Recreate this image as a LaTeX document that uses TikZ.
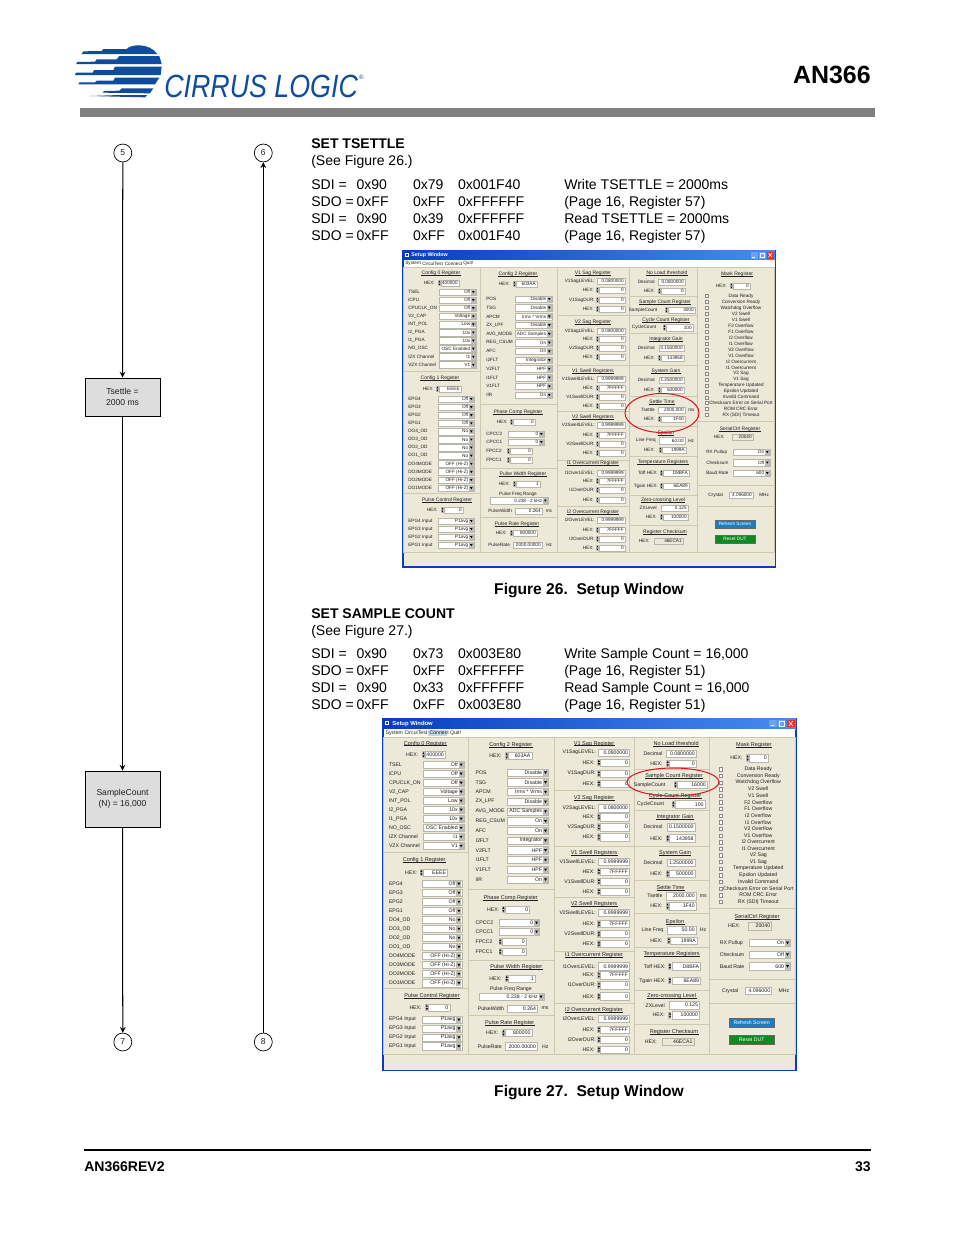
\documentclass[tikz,border=0pt]{standalone}
\usepackage{fontspec}
\setmainfont{Liberation Sans}
\definecolor{logoblue}{RGB}{15,76,158}
\definecolor{rulegray}{RGB}{128,128,128}
\definecolor{boxgray}{RGB}{221,221,221}
\definecolor{uibody}{RGB}{236,233,216}
\definecolor{uiedge}{RGB}{205,201,172}
\definecolor{uifieldedge}{RGB}{185,183,170}
\definecolor{uibtn}{RGB}{190,190,185}
\definecolor{uiink}{RGB}{30,30,30}
\definecolor{winblue}{RGB}{8,62,190}
\definecolor{titleblue}{RGB}{70,140,240}
\definecolor{hiblue}{RGB}{200,215,240}
\definecolor{refreshblue}{RGB}{30,125,190}
\definecolor{resetgreen}{RGB}{14,138,30}
\definecolor{markred}{RGB}{225,20,35}
\tikzset{>=stealth,
  bodytext/.style={anchor=base west,inner sep=0pt,font=\fontsize{9}{11}\selectfont},
  headtext/.style={bodytext,font=\fontsize{9}{11}\selectfont\bfseries},
  captiontext/.style={inner sep=0pt,font=\fontsize{10}{12}\selectfont\bfseries},
  flowbox/.style={draw=black,line width=.6pt,fill=boxgray,align=center,inner sep=0pt,
    minimum width=48.1pt,font=\fontsize{5.5}{7.2}\selectfont,text=uiink},
  flowmark/.style={draw=black,circle,line width=.45pt,inner sep=0pt,minimum size=11.5pt,
    font=\fontsize{5.5}{7}\selectfont,text=uiink},
  flowline/.style={line width=.65pt},
  uilabel/.style={inner sep=0pt,text=uiink,font=\fontsize{3}{3.6}\selectfont},
  uititle/.style={uilabel,font=\fontsize{3.2}{3.8}\selectfont},
  uirule/.style={draw=uiink,line width=.2pt},
  uifield/.style={fill=white,draw=uifieldedge,line width=.25pt},
  uipanel/.style={draw=uiedge,line width=.55pt},
  markring/.style={draw=markred,line width=.65pt}}
\newcounter{uiitem}
\newcommand{\uilbl}[3]{\stepcounter{uiitem}\node[uilabel,anchor=west] (ui\number\value{uiitem}) at (#1,#2) {#3};}
\newcommand{\uilblr}[3]{\stepcounter{uiitem}\node[uilabel,anchor=east] (ui\number\value{uiitem}) at (#1,#2) {#3};}
\newcommand{\uimid}[3]{\stepcounter{uiitem}\node[uilabel] (ui\number\value{uiitem}) at (#1,#2) {#3};}
\newcommand{\uihead}[3]{\stepcounter{uiitem}\node[uititle] (ui\number\value{uiitem}) at (#1,#2) {#3};
  \draw[uirule] ([yshift=-.3pt]ui\number\value{uiitem}.base west) -- ([yshift=-.3pt]ui\number\value{uiitem}.base east);}
\newcommand{\uiedit}[4]{\draw[uifield] (#1,#3-3.3) rectangle (#2,#3+3.3);\uilblr{#2-1}{#3}{#4}}
\newcommand{\uiread}[4]{\draw[uifield,fill=uibody] (#1,#3-3.3) rectangle (#2,#3+3.3);\uilblr{#2-1}{#3}{#4}}
\newcommand{\uispin}[4]{\fill[uibtn] (#1,#3-3.3) rectangle (#1+2.8,#3+3.3);
  \fill[black] (#1+.5,#3-.6) -- (#1+2.3,#3-.6) -- (#1+1.4,#3-2.4) -- cycle;
  \fill[black] (#1+.5,#3+.6) -- (#1+2.3,#3+.6) -- (#1+1.4,#3+2.4) -- cycle;
  \uiedit{#1+3}{#2}{#3}{#4}}
\newcommand{\uicombo}[4]{\draw[uifield] (#1,#3-3.3) rectangle (#2,#3+3.3);
  \fill[uibtn] (#2-5,#3-3) rectangle (#2-.4,#3+3);
  \fill[black] (#2-4,#3-1) -- (#2-1.4,#3-1) -- (#2-2.7,#3+1.2) -- cycle;
  \uilblr{#2-5.5}{#3}{#4}}
\newcommand{\uicomborows}[6]{\foreach \lab/\val [count=\n] in {#6} {
    \pgfmathsetmacro{\yy}{#4+#5*(\n-1)}
    \uilbl{#1}{\yy}{\lab}
    \uicombo{#2}{#3}{\yy}{\val}}}
% one setup window, drawn in the first window's page positions
\newcommand{\setupwindow}[3]{
  \fill[winblue] (402,250) rectangle (776,567.5);
  \shade[left color=winblue,right color=titleblue] (403,250.5) rectangle (775,260);
  \fill[uibody] (403.5,260) rectangle (774.5,566);
  \fill[white] (403.5,260) rectangle (774.5,267);
  \ifnum#3=1 \fill[hiblue] (443,260.5) rectangle (460.5,266.5); \fi
  % title bar
  \fill[white] (404.5,252.5) rectangle (408.5,256.5);
  \fill[winblue] (405.5,253.5) rectangle (407.5,255.5);
  \stepcounter{uiitem}
  \node[uilabel,anchor=west,text=white,font=\fontsize{3.4}{4}\selectfont\bfseries] (ui\number\value{uiitem}) at (411,255.3) {Setup Window};
  \fill[titleblue!80!white] (750.5,251.5) rectangle (757.5,258.5);
  \fill[titleblue!80!white] (758.5,251.5) rectangle (765.5,258.5);
  \fill[markred!70!orange] (766.5,251.5) rectangle (774,258.5);
  \draw[white,line width=.4pt] (752,257) -- (755,257);
  \draw[white,line width=.3pt] (760,253) rectangle (764,257);
  \draw[white,line width=.4pt] (768.5,253) -- (772,257) (772,253) -- (768.5,257);
  \foreach \mname/\mx in {System/405,CircuiTest/422,Connect/444.5,Quit!/463} {\uilbl{\mx}{263.5}{\mname}}
  % panel outlines
  \foreach \xa/\ya/\xb/\yb in {403.5/267.5/480/371,403.5/371/480/493,403.5/493/480/552,
      480/267.5/557/404,480/404/557/468,480/468/557/517,480/517/557/552,
      557/267.5/629/315,557/315/629/365,557/365/629/411,557/411/629/460,557/460/629/506,557/506/629/552,
      629/267.5/697/296,629/296/697/315,629/315/697/333,629/333/697/365,629/365/697/396,629/396/697/426,
      629/426/697/456,629/456/697/495,629/495/697/525,629/525/697/552,
      697/267.5/774.5/421,697/421/774.5/485,697/485/774.5/506,697/506/774.5/552} {
    \draw[uipanel] (\xa,\ya) rectangle (\xb,\yb);}
  % first column
  \uihead{441}{273}{Config 0 Register}
  \uilblr{435}{283}{HEX:}
  \uispin{438}{459}{283}{400000}
  \uicomborows{408}{439}{476}{292}{8.1}{TSEL/Off,iCPU/Off,CPUCLK\_ON/Off,V2\_CAP/Voltage,INT\_POL/Low,
    I2\_PGA/10x,I1\_PGA/10x,NO\_OSC/OSC Enabled,IZX Channel/I1,VZX Channel/V1}
  \uihead{440}{378}{Config 1 Register}
  \uilblr{434}{389}{HEX:}
  \uispin{436}{461}{389}{EEEE}
  \uicomborows{408}{438}{474}{399}{8.1}{EPG4/Off,EPG3/Off,EPG2/Off,EPG1/Off,DO4\_OD/No,DO3\_OD/No,DO2\_OD/No,DO1\_OD/No,
    DO4MODE/OFF (Hi-Z),DO3MODE/OFF (Hi-Z),DO2MODE/OFF (Hi-Z),DO1MODE/OFF (Hi-Z)}
  \uihead{447}{500}{Pulse Control Register}
  \uilblr{438}{510}{HEX:}
  \uispin{441}{463}{510}{0}
  \uicomborows{408}{438}{474}{521}{8}{EPG4 Input/P1avg,EPG3 Input/P1avg,EPG2 Input/P1avg,EPG1 Input/P1avg}
  % second column
  \uihead{518}{274}{Config 2 Register}
  \uilblr{510}{284}{HEX:}
  \uispin{513}{537}{284}{603AA}
  \uicomborows{486}{515}{552}{299}{8.73}{POS/Disable,TSG/Disable,APCM/Irms * Vrms,ZX\_LPF/Disable,AVG\_MODE/ADC Samples,
    REG\_CSUM/On,AFC/On,I2FLT/Integrator,V2FLT/HPF,I1FLT/HPF,V1FLT/HPF,IIR/On}
  \uihead{518}{412}{Phase Comp Register}
  \uilblr{508}{422}{HEX:}
  \uispin{510}{535}{422}{0}
  \uicomborows{486}{508}{544}{434}{8}{CPCC2/0,CPCC1/0}
  \uilbl{486}{451}{FPCC2} \uispin{507}{532}{451}{0}
  \uilbl{486}{460}{FPCC1} \uispin{507}{532}{460}{0}
  \uihead{523}{474}{Pulse Width Register}
  \uilblr{510}{484}{HEX:}
  \uispin{513}{540}{484}{1}
  \uimid{518}{494}{Pulse Freq Range}
  \uicombo{490}{548}{500.5}{0.238 - 2 kHz}
  \uilbl{488}{511}{PulseWidth} \uiedit{515}{542}{511}{0.264} \uilbl{545.5}{511}{ms}
  \uihead{517}{524}{Pulse Rate Register}
  \uilblr{507}{533}{HEX:}
  \uispin{510}{537}{533}{800000}
  \uilbl{488}{545}{PulseRate} \uiedit{513}{542}{545}{2000.00000} \uilbl{546}{545}{Hz}
  % third column
  \foreach \ttl/\ty/\ya/\yb/\yc/\yd/\lev/\dur/\va/\vb in {
      V1 Sag Register/273/281/290/300/309/V1SagLEVEL:/V1SagDUR:/0.0800000/0,
      V2 Sag Register/322/331/339/348/357/V2SagLEVEL:/V2SagDUR:/0.0800000/0,
      V1 Swell Registers/371/379/388/397/406/V1SwellLEVEL:/V1SwellDUR:/0.9999999/7FFFFF,
      V2 Swell Registers/417/425/435/444/453/V2SwellLEVEL:/V2SwellDUR:/0.9999999/7FFFFF,
      I1 Overcurrent Register/463/473/481/490/500/I1OverLEVEL:/I1OverDUR:/0.9999999/7FFFFF,
      I2 Overcurrent Register/512/520/530/539/548/I2OverLEVEL:/I2OverDUR:/0.9999999/7FFFFF} {
    \uihead{593}{\ty}{\ttl}
    \uilblr{595}{\ya}{\lev} \uiedit{597}{625}{\ya}{\va}
    \uilblr{594}{\yb}{HEX:} \uispin{596}{625}{\yb}{\vb}
    \uilblr{595}{\yc}{\dur} \uispin{596}{625}{\yc}{0}
    \uilblr{594}{\yd}{HEX:} \uispin{596}{625}{\yd}{0}}
  % fourth column
  \uihead{667}{273}{No Load threshold}
  \uilblr{655}{282}{Decimal} \uiedit{658}{685}{282}{0.0800000}
  \uilblr{655}{291}{HEX:} \uispin{658}{685}{291}{0}
  \uihead{665}{302}{Sample Count Register}
  \uimid{643}{310}{SampleCount} \uispin{665}{695}{310}{#1}
  \uihead{666}{320}{Cycle Count Register}
  \uimid{644}{327.5}{CycleCount} \uispin{663}{693}{327.5}{100}
  \uihead{666}{339}{Integrator Gain}
  \uilblr{655}{348}{Decimal} \uiedit{659}{684}{348}{0.1500000}
  \uilblr{655}{358}{HEX:} \uispin{658}{684}{358}{143958}
  \uihead{666}{371}{System Gain}
  \uilblr{655}{380}{Decimal} \uiedit{659}{684}{380}{1.2500000}
  \uilblr{655}{390}{HEX:} \uispin{658}{684}{390}{500000}
  \uihead{662}{402}{Settle Time}
  \uilblr{655}{410}{Tsettle} \uiedit{658}{685}{410}{2000.000} \uilbl{688}{410}{ms}
  \uilblr{655}{419}{HEX:} \uispin{658}{685}{419}{1F40}
  \uihead{666}{433}{Epsilon}
  \uilblr{656}{440.5}{Line Freq} \uiedit{659}{685}{440.5}{#2} \uilbl{688}{440.5}{Hz}
  \uilblr{655}{450}{HEX:} \uispin{659}{686}{450}{1999A}
  \uihead{663}{462}{Temperature Registers}
  \uilblr{658}{473}{Toff HEX:} \uispin{660}{689}{473}{D8BFA}
  \uilblr{658}{486}{Tgain HEX:} \uispin{660}{689}{486}{6EA89}
  \uihead{663}{500}{Zero-crossing Level}
  \uilblr{657}{508}{ZXLevel} \uiedit{661}{688}{508}{0.125}
  \uilblr{657}{517}{HEX:} \uispin{660}{688}{517}{100000}
  \uihead{665}{532}{Register Checksum}
  \uilblr{650}{541}{HEX:} \uiread{654}{683}{541}{46ECA1}
  % fifth column
  \uihead{737}{274}{Mask Register}
  \uilblr{727}{286}{HEX:} \uispin{730}{750}{286}{0}
  \foreach \flag [count=\n] in {Data Ready,Conversion Ready,Watchdog Overflow,V2 Swell,V1 Swell,F2 Overflow,F1 Overflow,
      I2 Overflow,I1 Overflow,V2 Overflow,V1 Overflow,I2 Overcurrent,I1 Overcurrent,V2 Sag,V1 Sag,
      Temperature Updated,Epsilon Updated,Invalid Command,Checksum Error on Serial Port,ROM CRC Error,RX (SDI) Timeout} {
    \pgfmathsetmacro{\yy}{296+5.95*(\n-1)}
    \draw[fill=white,draw=black!45,line width=.2pt] (705.5,\yy-1.5) rectangle (708.3,\yy+1.5);
    \uimid{741}{\yy}{\flag}}
  \uihead{740}{429}{SerialCtrl Register}
  \uilblr{725}{437}{HEX:} \uiread{732}{753}{437}{20040}
  \uicomborows{706}{733}{770}{452}{10.5}{RX Pullup/On,Checksum/Off,Baud Rate/600}
  \uilbl{708}{495}{Crystal} \uiedit{729}{753}{495}{4.096000} \uilbl{759}{495}{MHz}
  \draw[fill=refreshblue,draw=black!60,line width=.3pt] (715,520) rectangle (755,528);
  \stepcounter{uiitem}
  \node[uilabel,text=white] (ui\number\value{uiitem}) at (735,524) {Refresh Screen};
  \draw[fill=resetgreen,draw=black!60,line width=.3pt] (715,535) rectangle (755,543);
  \stepcounter{uiitem}
  \node[uilabel,text=white] (ui\number\value{uiitem}) at (735,539) {Reset DUT};
}
% a heading and its four command lines
\newcommand{\cmdrows}[3]{\foreach \sdi/\ca/\cb/\cc/\note [count=\n] in {#3} {
    \pgfmathsetmacro{\yy}{#1+17*(\n-1)}
    \node[bodytext] (#2a\n) at (311,\yy) {\sdi};
    \node[bodytext] (#2b\n) at (356.3,\yy) {\ca};
    \node[bodytext] (#2c\n) at (412.7,\yy) {\cb};
    \node[bodytext] (#2d\n) at (457.7,\yy) {\cc};
    \node[bodytext] (#2e\n) at (564,\yy) {\note};}}
\begin{document}
\begin{tikzpicture}[x=.6415pt,y=-.6415pt]
  \useasboundingbox (0,0) rectangle (954,1235);
  % logo
  \begin{scope}[shift={(70,40)},scale=1/3]
    \fill[logoblue] (35,42) -- (40,34) -- (95,33) -- (100,27) -- (170,27)
       .. controls (182,12) and (238,8) .. (262,42) -- cycle;
    \fill[logoblue] (18,72) -- (22,66) -- (75,65) -- (80,58) -- (140,58) -- (148,48) -- (268,48) -- (275,72) -- cycle;
    \fill[logoblue] (15,105) -- (18,98) -- (68,98) -- (72,90) -- (130,90) -- (135,80) -- (275,80) -- (272,105) -- cycle;
    \fill[logoblue] (25,133) -- (28,127) -- (75,127) -- (80,122) -- (130,122) -- (135,113) -- (268,113) -- (255,133) -- cycle;
    \fill[logoblue] (98,158) -- (102,153) -- (148,152) -- (155,145) -- (250,145) -- (240,160) -- cycle;
    \fill[logoblue] (58,168) -- (150,165) -- (232,165) -- (225,172) -- cycle;
  \end{scope}
  \node[inner sep=0pt,anchor=base west,text=logoblue,xscale=.835,font=\fontsize{20.6}{24}\selectfont\itshape] (logoname) at (164,97.5) {CIRRUS LOGIC};
  \node[inner sep=0pt,text=logoblue,font=\fontsize{4}{5}\selectfont] (logomark) at (361.5,77.5) {\textregistered};
  \node[inner sep=0pt,anchor=base east,font=\fontsize{16}{19}\selectfont\bfseries] (docid) at (871,83.5) {AN366};
  \fill[rulegray] (80,108) rectangle (875,117);
  % flow down the left
  \node[flowmark] (mark5) at (122.8,153) {5};
  \node[flowmark] (mark6) at (263.3,153) {6};
  \node[flowbox,minimum height=24.4pt] (tsettlebox) at (122.5,397) {Tsettle =\\2000 ms};
  \node[flowbox,minimum height=35.9pt] (countbox) at (122.5,799) {SampleCount\\(N) = 16,000};
  \node[flowmark] (mark7) at (122.8,1042) {7};
  \node[flowmark] (mark8) at (263.3,1042) {8};
  \draw[->,flowline] (mark5) -- (tsettlebox);
  \draw[->,flowline] (tsettlebox) -- (countbox);
  \draw[->,flowline] (countbox) -- (mark7);
  \draw[->,flowline] (mark8) -- (mark6);
  % first command block
  \node[headtext] (settlehead) at (311,148) {SET TSETTLE};
  \node[bodytext] (settlesee) at (311,165) {(See Figure 26.)};
  \cmdrows{189}{settle}{SDI =/0x90/0x79/0x001F40/Write TSETTLE = 2000ms,
    SDO =/0xFF/0xFF/0xFFFFFF/{(Page 16, Register 57)},
    SDI =/0x90/0x39/0xFFFFFF/Read TSETTLE = 2000ms,
    SDO =/0xFF/0xFF/0x001F40/{(Page 16, Register 57)}}
  \setupwindow{4000}{60.00}{0}
  \draw[markring] (662,413) ellipse [x radius=37,y radius=19.5];
  \node[captiontext] (figsettle) at (589,590.5) {Figure 26.\ \ Setup Window};
  % second command block
  \node[headtext] (counthead) at (311,618) {SET SAMPLE COUNT};
  \node[bodytext] (countsee) at (311,635) {(See Figure 27.)};
  \cmdrows{658}{count}{SDI =/0x90/0x73/0x003E80/{Write Sample Count = 16,000},
    SDO =/0xFF/0xFF/0xFFFFFF/{(Page 16, Register 51)},
    SDI =/0x90/0x33/0xFFFFFF/{Read Sample Count = 16,000},
    SDO =/0xFF/0xFF/0x003E80/{(Page 16, Register 51)}}
  \begin{scope}[shift={(-64.22,439.75)},xscale=1.11,yscale=1.113,transform shape]
    \setupwindow{16000}{50.00}{1}
  \end{scope}
  \draw[markring] (673,782) ellipse [x radius=46,y radius=14];
  \node[captiontext] (figcount) at (589,1092.5) {Figure 27.\ \ Setup Window};
  % footer
  \draw[line width=1.3pt] (84,1150) -- (871,1150);
  \node[headtext] (footid) at (84,1171) {AN366REV2};
  \node[headtext,anchor=base east] (footpage) at (871,1171) {33};
\end{tikzpicture}
\end{document}
